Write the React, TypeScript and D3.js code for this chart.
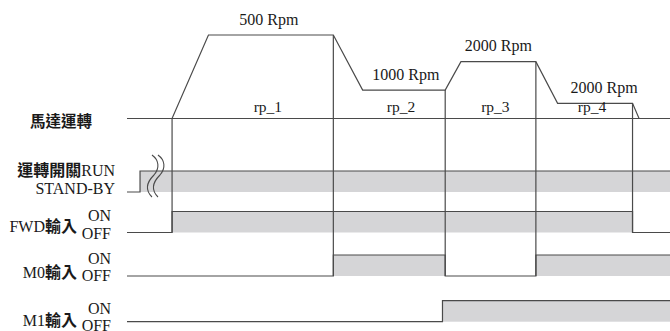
import React from 'react';
import * as d3 from 'd3';

// ---- Data (time in arbitrary units 0..100, motor level relative 0..1) ----
const motorTimes = [0, 8.3, 15, 38, 43.4, 58.6, 61.5, 75.3, 79.3, 93.1, 94.3, 100];
const motorLevels = [0, 0, 1, 1, 0.341, 0.341, 0.68, 0.68, 0.182, 0.182, 0, 0];
const speedLabels = ['500 Rpm', '1000 Rpm', '2000 Rpm', '2000 Rpm'];
const phaseLabels = ['rp_1', 'rp_2', 'rp_3', 'rp_4'];

const signalNames = ['RUN', 'FWD', 'M0', 'M1'];
const runTimes = [0, 2.4];
const runStates = [0, 1];
const fwdTimes = [0, 8.3, 93.1];
const fwdStates = [0, 1, 0];
const m0Times = [0, 38, 58.6, 75.3];
const m0States = [0, 1, 0, 1];
const m1Times = [0, 58.1];
const m1States = [0, 1];

const edgeTimes = [8.3, 38, 58.6, 75.3, 93.1];
const edgeBottomRow = ['FWD', 'M0', 'M0', 'M0', 'FWD'];
const breakTime = 4.6;

const W = 670;
const H = 331;
const LINE = '#4a4a4a';
const BAND = '#d5d5d7';
const TXT = '#1a1a1a';
const FONT = "'Liberation Serif', 'Times New Roman', 'Noto Sans CJK TC', serif";
const CJK = "'Noto Sans CJK TC', sans-serif";

// split text into CJK / latin runs so CJK can be set slightly heavier
function Runs({ text }: { text: string }) {
  const parts = text.match(/[\u4e00-\u9fff]+|[^\u4e00-\u9fff]+/g) || [];
  return (
    <>
      {parts.map((p, i) =>
        /[\u4e00-\u9fff]/.test(p) ? (
          <tspan key={i} fontFamily={CJK} fontWeight={600}>{p}</tspan>
        ) : (
          <tspan key={i}>{p}</tspan>
        )
      )}
    </>
  );
}

export default function App() {
  const x = d3.scaleLinear().domain([0, 100]).range([127, 670]);
  const yMotor = d3.scaleLinear().domain([0, 1]).range([118.5, 35]);
  // OFF-level line of each signal row; ON level sits above it
  const rowOff = d3.scaleOrdinal<string, number>().domain(signalNames).range([192, 232.5, 276, 321.7]);
  const onHeight = 21;
  const yOn = (n: string) => rowOff(n) - onHeight;

  const signals = [
    { name: 'RUN', times: runTimes, states: runStates },
    { name: 'FWD', times: fwdTimes, states: fwdStates },
    { name: 'M0', times: m0Times, states: m0States },
    { name: 'M1', times: m1Times, states: m1States },
  ];

  const motorPts = motorTimes.map((t, i) => [t, motorLevels[i]] as [number, number]);
  const motorLine = d3.line<[number, number]>().x(d => x(d[0])).y(d => yMotor(d[1]));
  const levelMaxAt = (t: number) => {
    let m = 0;
    motorTimes.forEach((tt, i) => { if (Math.abs(tt - t) < 1e-6) m = Math.max(m, motorLevels[i]); });
    return m;
  };

  const plateaus = speedLabels.map((_, i) => ({
    t0: motorTimes[2 + 2 * i],
    t1: motorTimes[3 + 2 * i],
    lvl: motorLevels[2 + 2 * i],
  }));
  const speedShift = [-2, 2, 0, 9];

  const leftLabels = [
    { text: '運轉開關RUN', x: 115, y: 176 },
    { text: 'STAND-BY', x: 115, y: 194 },
  ];
  const ioLabels = [
    { name: 'FWD', text: 'FWD輸入', ly: 231.5, on: 221, off: 239.3 },
    { name: 'M0', text: 'M0輸入', ly: 278, on: 264, off: 280.5 },
    { name: 'M1', text: 'M1輸入', ly: 326, on: 314, off: 330.5 },
  ];

  const bx = x(breakTime);
  const sCurve = (dx: number) =>
    `M${bx + dx},155 C${bx + dx + 7},160 ${bx + dx + 8},168 ${bx + dx + 2},175 C${bx + dx - 5},182 ${bx + dx - 7},190 ${bx + dx},197`;

  return (
    <svg width={W} height={H} style={{ position: 'absolute', left: 0, top: 0, background: '#fff' }} fontFamily={FONT}>
      {/* signal bands */}
      {signals.map(s => {
        const ends = [...s.times.slice(1), 100];
        return s.times.map((t, i) =>
          s.states[i] === 1 ? (
            <rect key={s.name + i} x={x(t)} y={yOn(s.name)} width={x(ends[i]) - x(t)} height={rowOff(s.name) - yOn(s.name)} fill={BAND} />
          ) : null
        );
      })}
      {/* signal step lines */}
      {signals.map(s => {
        const pts: [number, number][] = s.times.map((t, i) => [t, s.states[i]]);
        pts.push([100, s.states[s.states.length - 1]]);
        const line = d3.line<[number, number]>()
          .x(d => x(d[0]))
          .y(d => (d[1] ? yOn(s.name) : rowOff(s.name)))
          .curve(d3.curveStepAfter);
        return <path key={s.name} d={line(pts) || ''} fill="none" stroke={LINE} strokeWidth={1.2} />;
      })}
      {/* break symbol */}
      <path d={sCurve(0)} fill="none" stroke={LINE} strokeWidth={1.1} />
      <path d={sCurve(6)} fill="none" stroke={LINE} strokeWidth={1.1} />

      {/* motor baseline & profile */}
      <line x1={x(0)} x2={x(100)} y1={yMotor(0)} y2={yMotor(0)} stroke={LINE} strokeWidth={1.2} />
      <path d={motorLine(motorPts) || ''} fill="none" stroke={LINE} strokeWidth={1.2} />

      {/* phase edges */}
      {edgeTimes.map((t, i) => (
        <line key={'e' + i} x1={x(t)} x2={x(t)} y1={yMotor(levelMaxAt(t))} y2={rowOff(edgeBottomRow[i])} stroke={LINE} strokeWidth={1.2} />
      ))}

      {/* speed & phase labels */}
      {plateaus.map((p, i) => (
        <g key={'p' + i} fill={TXT} fontSize={16} textAnchor="middle">
          <text x={(x(p.t0) + x(p.t1)) / 2 + speedShift[i]} y={yMotor(p.lvl) - 10.5}>{speedLabels[i]}</text>
          <text x={(x(p.t0) + x(p.t1)) / 2 - 3} y={yMotor(0) - 6.5} fontSize={15.5}>{phaseLabels[i]}</text>
        </g>
      ))}

      {/* left labels */}
      <text x={92} y={127} fontSize={15.5} textAnchor="end" fill={TXT}><Runs text="馬達運轉" /></text>
      {leftLabels.map(l => (
        <text key={l.text} x={l.x} y={l.y} fontSize={16} textAnchor="end" fill={TXT}><Runs text={l.text} /></text>
      ))}
      {ioLabels.map(l => (
        <g key={l.name} fill={TXT} fontSize={16}>
          <text x={77} y={l.ly} textAnchor="end"><Runs text={l.text} /></text>
          <text x={111} y={l.on} textAnchor="end">ON</text>
          <text x={111} y={l.off} textAnchor="end">OFF</text>
        </g>
      ))}
    </svg>
  );
}
